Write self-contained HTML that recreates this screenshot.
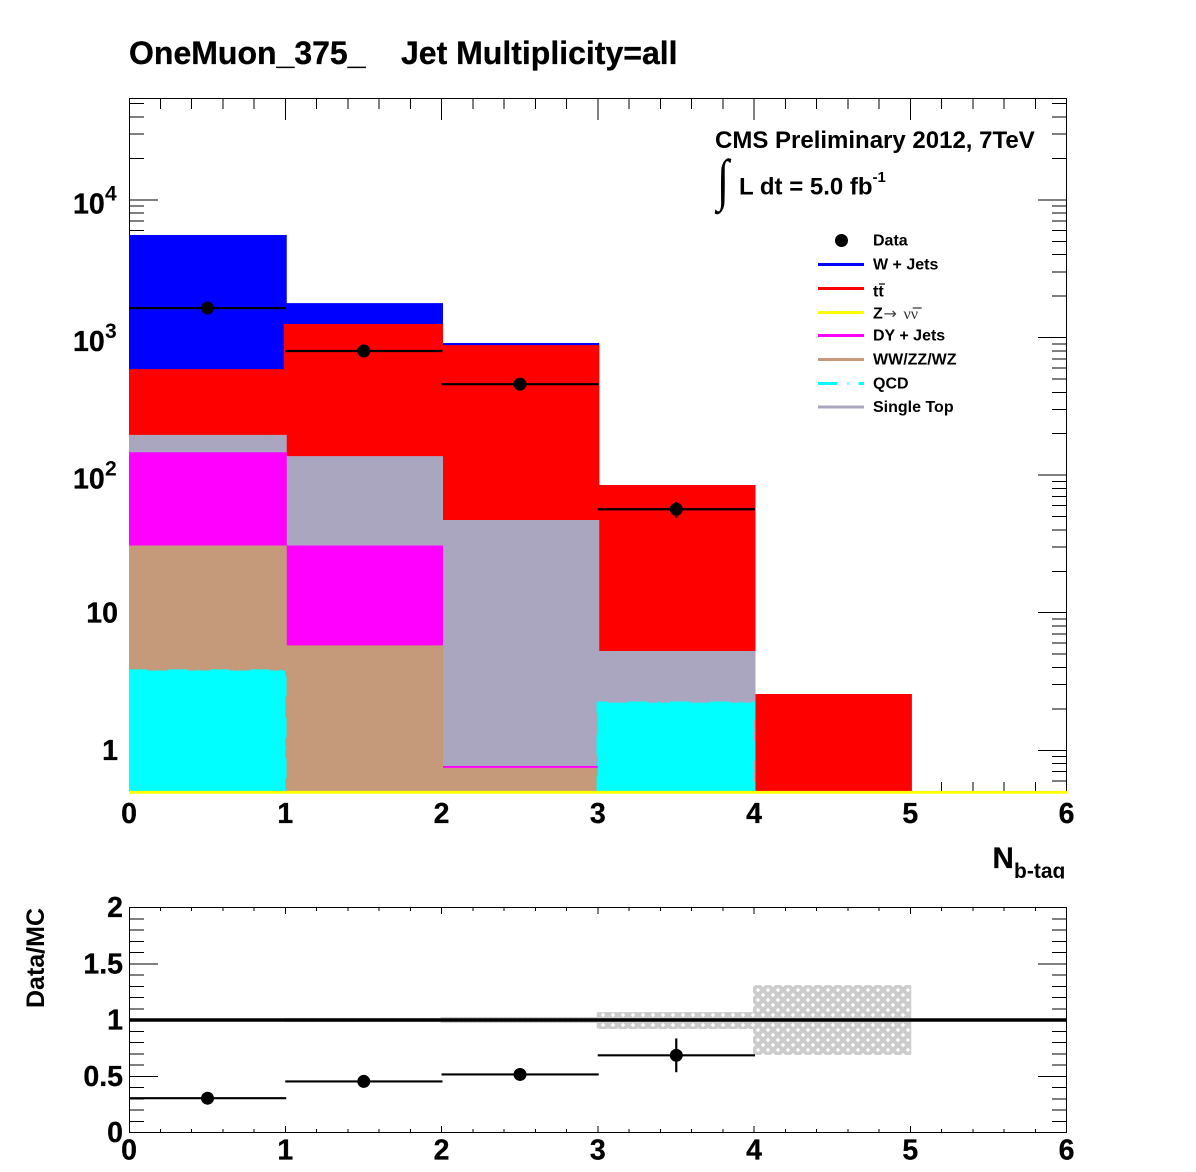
<!DOCTYPE html>
<html>
<head>
<meta charset="utf-8">
<title>Jet Multiplicity</title>
<style>
html,body{margin:0;padding:0;background:#fff;}
svg{display:block;}
text{font-family:"Liberation Sans",sans-serif;font-weight:bold;fill:#000;}
.heavy{stroke:#000;stroke-width:0.3px;}
</style>
</head>
<body>
<svg id="chart" xmlns="http://www.w3.org/2000/svg" width="1196" height="1172" viewBox="0 0 1196 1172">
<defs>
<clipPath id="main-clip"><rect x="129" y="98" width="939" height="693"/></clipPath>
<clipPath id="xtitle-clip"><rect x="980" y="840" width="100" height="38.5"/></clipPath>
<pattern id="hatch" patternUnits="userSpaceOnUse" width="10" height="10">
<rect width="10" height="10" fill="#cccccc"/>
<path d="M3 2.8L5.2 5L3 7.2L0.8 5ZM8 -2.2L10.2 0L8 2.2L5.8 0ZM8 7.8L10.2 10L8 12.2L5.8 10Z" fill="#ffffff"/>
</pattern>
</defs>
<rect width="1196" height="1172" fill="#ffffff"/>
<text class="heavy" x="129" y="64" font-size="32">OneMuon_375_</text>
<text class="heavy" x="401" y="64" font-size="32">Jet Multiplicity=all</text>
<g id="main-frame" shape-rendering="crispEdges"></g>
<g id="main-bars" clip-path="url(#main-clip)"></g>
<g id="main-overlay"></g>
<g id="main-data"></g>
<g id="main-labels"></g>
<text x="715" y="148" font-size="24">CMS Preliminary 2012, 7TeV</text>
<text transform="translate(717,198.8) scale(0.73,0.95)" font-size="60" style="font-family:'Liberation Serif',serif;font-weight:normal">∫</text>
<text x="739" y="194.5" font-size="24">L dt = 5.0 fb</text>
<text x="872.5" y="182" font-size="15">-1</text>
<g>
<circle cx="841.5" cy="240.5" r="6.5" fill="#000"/>
<text x="873" y="245.5" font-size="16">Data</text>
<line x1="818" x2="864" y1="264.5" y2="264.5" stroke="#0000ff" stroke-width="3"/>
<text x="873" y="269.5" font-size="16">W + Jets</text>
<line x1="818" x2="864" y1="288.5" y2="288.5" stroke="#ff0000" stroke-width="3"/>
<text x="873" y="296.5" font-size="16">tt</text>
<line x1="879" x2="885" y1="284" y2="284" stroke="#000" stroke-width="1.2"/>
<line x1="818" x2="864" y1="312.5" y2="312.5" stroke="#ffff00" stroke-width="3"/>
<text x="873" y="318.5" font-size="16">Z</text>
<text x="883.5" y="319" font-size="16" style="font-family:'DejaVu Sans',sans-serif;font-weight:normal;fill:#444">→</text>
<text x="903.5" y="319" font-size="16" style="font-family:'Liberation Serif',serif;font-weight:normal;fill:#333">νν</text>
<line x1="912.7" x2="921.7" y1="308" y2="308" stroke="#000" stroke-width="1"/>
<line x1="818" x2="864" y1="335.5" y2="335.5" stroke="#ff00ff" stroke-width="3"/>
<text x="873" y="340.5" font-size="16">DY + Jets</text>
<line x1="818" x2="864" y1="359.5" y2="359.5" stroke="#c49a7a" stroke-width="3"/>
<text x="873" y="364.5" font-size="16">WW/ZZ/WZ</text>
<line x1="818" x2="864" y1="383.5" y2="383.5" stroke="#00ffff" stroke-width="3" stroke-dasharray="19 10.5 1 10"/>
<text x="873" y="388.5" font-size="16">QCD</text>
<line x1="818" x2="864" y1="407" y2="407" stroke="#aaa6bf" stroke-width="3"/>
<text x="873" y="412" font-size="16">Single Top</text>
</g>
<g clip-path="url(#xtitle-clip)">
<text class="heavy" x="992.5" y="868" font-size="29.5">N</text>
<text x="1014" y="878" font-size="21">b-tag</text>
</g>
<g id="ratio-band"></g>
<g id="ratio-frame" shape-rendering="crispEdges"></g>
<g id="ratio-data"></g>
<text transform="translate(44,1008) rotate(-90)" font-size="25">Data/MC</text>
</svg>
<script>
// Bin edges and x-axis
var binLabels = [0, 1, 2, 3, 4, 5];
var xTickLabels = [0, 1, 2, 3, 4, 5, 6];
// Stacked histogram tops per bin (each series includes everything drawn in front of it)
var wJets = [5420, 1735, 889, 82.6, 2.5, 0];
var ttbar = [575, 1222, 859, 82.6, 2.5, 0];
var singleTop = [191, 134, 46, 5.14, 0, 0];
var dyJets = [143, 30, 0.75, 0, 0, 0];
var dibosons = [30, 5.65, 0.726, 0, 0, 0];
var qcd = [3.8, 0, 0, 2.22, 0, 0];
var dataValues = [1637, 798, 458, 56.5];
var dataErrors = [40, 28, 21, 7.5];
var ratioValues = [0.305, 0.454, 0.516, 0.686];
var ratioErrors = [0.008, 0.016, 0.024, 0.15];
var bandLow = [0.995, 0.982, 0.973, 0.92, 0.69];
var bandHigh = [1.005, 1.018, 1.027, 1.07, 1.31];
var mainDecadeLabels = [1, 10, 100, 1000, 10000];
var ratioTickLabels = ["0", "0.5", "1", "1.5", "2"];
var ratioTickValues = [0, 0.5, 1, 1.5, 2];

var NS = 'http://www.w3.org/2000/svg';
var X0 = 129.5, X1 = 1066.5;
var MAIN_TOP = 98.5, MAIN_BOTTOM = 792.3;
var RATIO_TOP = 907.5, RATIO_BOTTOM = 1132.5;

function xPos(v) { return 129 + (X1 - 129) * v / 6; }
function yMain(v) { return 750.3 - 137.6 * Math.log10(v); }
function yRatio(v) { return RATIO_BOTTOM - (RATIO_BOTTOM - RATIO_TOP) * v / 2; }

function node(parent, tag) {
  var el = document.createElementNS(NS, tag);
  parent.appendChild(el);
  return el;
}
function seg(el, x1, y1, x2, y2, w, c) {
  el.setAttribute('x1', x1);
  el.setAttribute('y1', y1);
  el.setAttribute('x2', x2);
  el.setAttribute('y2', y2);
  el.setAttribute('stroke', c || '#000');
  el.setAttribute('stroke-width', w);
}

// ---- main frame ----
var mf = document.getElementById('main-frame');
var frame = node(mf, 'rect');


frame.setAttribute('x', X0);
frame.setAttribute('y', MAIN_TOP);
frame.setAttribute('width', X1 - X0);
frame.setAttribute('height', MAIN_BOTTOM - MAIN_TOP);
frame.setAttribute('fill', 'none');
frame.setAttribute('stroke', '#000');
frame.setAttribute('stroke-width', '1');

for (var i = 1; i < 30; i++) {
  var major = i % 5 === 0;
  var len = major ? 21.5 : 10.5;
  var tx = xPos(i / 5);
  var t1 = node(mf, 'line');
  
  
  seg(t1, tx, MAIN_TOP, tx, MAIN_TOP + len, 1);
  var t2 = node(mf, 'line');
  
  
  seg(t2, tx, MAIN_BOTTOM, tx, MAIN_BOTTOM - len, 1);
}
for (var d = 0; d < 6; d++) {
  for (var m = 1; m <= 9; m++) {
    var val = m * Math.pow(10, d - 1);
    var ty = yMain(val);
    if (ty > MAIN_BOTTOM - 1 || ty < MAIN_TOP + 1) continue;
    var tl = m === 1 ? 28.5 : 14.3;
    var a = node(mf, 'line');
    
    
    seg(a, X0, ty, X0 + tl, ty, 1);
    var b = node(mf, 'line');
    
    
    seg(b, X1, ty, X1 - tl, ty, 1);
  }
}

// ---- stacked histograms ----
var bars = document.getElementById('main-bars');
function drawHist(values, color, name, dash, width) {
  var base = MAIN_BOTTOM + 3;
  var d = '';
  var open = false;
  var last = binLabels.length - 1;
  for (var k = 0; k <= last; k++) {
    var v = values[k];
    var x0 = xPos(binLabels[k]);
    var x1 = xPos(binLabels[k] + 1);
    if (v > 0) {
      var y = yMain(v);
      if (!open) { d += 'M' + x0 + ' ' + base; open = true; }
      d += 'L' + x0 + ' ' + y + 'L' + x1 + ' ' + y;
    } else if (open) {
      d += 'L' + x0 + ' ' + base + 'Z';
      open = false;
    }
  }
  if (open) d += 'L' + xPos(binLabels[last] + 1) + ' ' + base + 'Z';
  var p = node(bars, 'path');
  
  
  p.setAttribute('d', d);
  p.setAttribute('fill', color);
  p.setAttribute('stroke', color);
  p.setAttribute('stroke-width', width || 3);
  if (dash) p.setAttribute('stroke-dasharray', dash);
}
drawHist(wJets, '#0000ff', 'histogram-w-jets');
drawHist(ttbar, '#ff0000', 'histogram-ttbar');
drawHist(singleTop, '#aaa6bf', 'histogram-single-top');
drawHist(dyJets, '#ff00ff', 'histogram-dy-jets');
drawHist(dibosons, '#c49a7a', 'histogram-dibosons');
drawHist(qcd, '#00ffff', 'histogram-qcd', '20 10 1 10', 2.4);

var overlay = document.getElementById('main-overlay');
var zLine = node(overlay, 'line');


seg(zLine, 129, MAIN_BOTTOM, X1 + 0.5, MAIN_BOTTOM, 2.8, '#ffff00');

// ---- data points ----
var md = document.getElementById('main-data');
dataValues.forEach(function (v, idx) {
  var cx = xPos(binLabels[idx] + 0.5) + 0.4;
  var cy = yMain(v);
  var h = node(md, 'line');
  
  
  seg(h, xPos(binLabels[idx]), cy, xPos(binLabels[idx] + 1) + 1, cy, 2.2);
  var e = node(md, 'line');
  
  
  seg(e, cx, yMain(v + dataErrors[idx]), cx, yMain(v - dataErrors[idx]), 2.2);
  var c = node(md, 'circle');
  
  
  c.setAttribute('cx', cx);
  c.setAttribute('cy', cy);
  c.setAttribute('r', 6.5);
  c.setAttribute('fill', '#000');
});

// ---- main axis labels ----
var ml = document.getElementById('main-labels');
xTickLabels.forEach(function (v) {
  var t = node(ml, 'text');
  t.setAttribute('class', 'heavy');
  
  
  t.setAttribute('x', xPos(v));
  t.setAttribute('y', 823);
  t.setAttribute('font-size', 28.5);
  t.setAttribute('text-anchor', 'middle');
  t.textContent = v;
});
mainDecadeLabels.forEach(function (v) {
  var y = yMain(v);
  var exp = Math.round(Math.log10(v));
  var t = node(ml, 'text');
  t.setAttribute('class', 'heavy');
  
  
  t.setAttribute('font-size', 28.5);
  if (v <= 10) {
    t.setAttribute('x', 118);
    t.setAttribute('y', y + 9.8);
    t.setAttribute('text-anchor', 'end');
    t.textContent = v;
  } else {
    t.setAttribute('x', 73);
    t.setAttribute('y', y + 13.5);
    t.textContent = '10';
    var s = node(ml, 'text');
    
    
    s.setAttribute('x', 105);
    s.setAttribute('y', y + 0.5);
    s.setAttribute('font-size', 21);
    s.textContent = exp;
  }
});

// ---- ratio band ----
var rb = document.getElementById('ratio-band');
bandLow.forEach(function (lo, idx) {
  var r = node(rb, 'rect');
  
  
  r.setAttribute('x', xPos(binLabels[idx]) - 1);
  r.setAttribute('y', yRatio(bandHigh[idx]));
  r.setAttribute('width', xPos(binLabels[idx] + 1) - xPos(binLabels[idx]) + 2);
  r.setAttribute('height', yRatio(lo) - yRatio(bandHigh[idx]));
  r.setAttribute('fill', 'url(#hatch)');
});

// ---- ratio frame ----
var rf = document.getElementById('ratio-frame');
var rframe = node(rf, 'rect');


rframe.setAttribute('x', X0);
rframe.setAttribute('y', RATIO_TOP);
rframe.setAttribute('width', X1 - X0);
rframe.setAttribute('height', RATIO_BOTTOM - RATIO_TOP);
rframe.setAttribute('fill', 'none');
rframe.setAttribute('stroke', '#000');
rframe.setAttribute('stroke-width', '1');
for (var j = 1; j < 30; j++) {
  var maj = j % 5 === 0;
  var rlen = maj ? 6.7 : 3.7;
  var rx = xPos(j / 5);
  var r1 = node(rf, 'line');
  
  
  seg(r1, rx, RATIO_TOP, rx, RATIO_TOP + rlen, 1);
  var r2 = node(rf, 'line');
  
  
  seg(r2, rx, RATIO_BOTTOM, rx, RATIO_BOTTOM - rlen, 1);
}
for (var q = 1; q < 20; q++) {
  var qmaj = q % 5 === 0;
  var qlen = qmaj ? 28.5 : 14.3;
  var qy = yRatio(q / 10);
  var q1 = node(rf, 'line');
  
  
  seg(q1, X0, qy, X0 + qlen, qy, 1);
  var q2 = node(rf, 'line');
  
  
  seg(q2, X1, qy, X1 - qlen, qy, 1);
}
xTickLabels.forEach(function (v) {
  var t = node(rf, 'text');
  t.setAttribute('class', 'heavy');
  
  
  t.setAttribute('x', xPos(v));
  t.setAttribute('y', 1159.5);
  t.setAttribute('font-size', 28.5);
  t.setAttribute('text-anchor', 'middle');
  t.textContent = v;
});
ratioTickValues.forEach(function (v, idx) {
  var t = node(rf, 'text');
  t.setAttribute('class', 'heavy');
  
  
  t.setAttribute('x', 123);
  t.setAttribute('y', yRatio(v) + 9.7);
  t.setAttribute('font-size', 28.5);
  t.setAttribute('text-anchor', 'end');
  t.textContent = ratioTickLabels[idx];
});

// ---- ratio points ----
var rd = document.getElementById('ratio-data');
var unity = node(rd, 'line');


seg(unity, 129, yRatio(1), X1, yRatio(1), 3.4);
ratioValues.forEach(function (v, idx) {
  var cx = xPos(binLabels[idx] + 0.5) + 0.4;
  var cy = yRatio(v);
  var h = node(rd, 'line');
  
  
  seg(h, xPos(binLabels[idx]), cy, xPos(binLabels[idx] + 1) + 1, cy, 2.2);
  var e = node(rd, 'line');
  
  
  seg(e, cx, yRatio(v + ratioErrors[idx]), cx, yRatio(v - ratioErrors[idx]), 2.2);
  var c = node(rd, 'circle');
  
  
  c.setAttribute('cx', cx);
  c.setAttribute('cy', cy);
  c.setAttribute('r', 6.5);
  c.setAttribute('fill', '#000');
});
</script>
</body>
</html>
